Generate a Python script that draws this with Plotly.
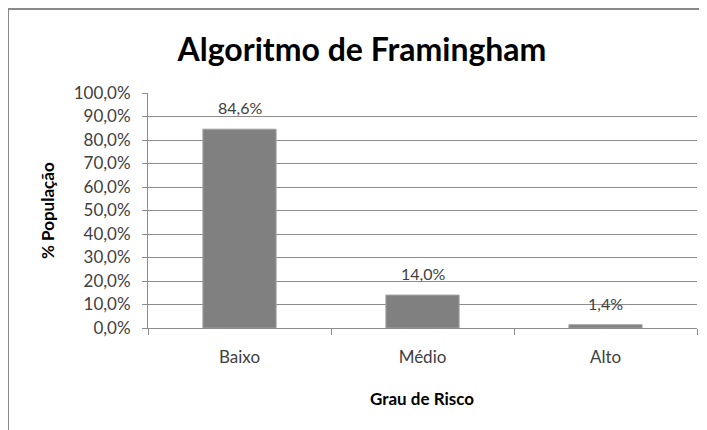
import plotly.graph_objects as go

categorias = ["Baixo", "Médio", "Alto"]
percentagens = [84.6, 14.0, 1.4]
y_ticks = [0, 10, 20, 30, 40, 50, 60, 70, 80, 90, 100]
y_ticktext = [f"{v:.1f}".replace(".", ",") + "%" for v in y_ticks]
rotulos = [f"{v:.1f}".replace(".", ",") + "%" for v in percentagens]

FONT = "Lato, 'Open Sans', sans-serif"
GRID = "#8c8c8c"
TXT = "#404040"

# page body adds ~8px, so positions below are reference px minus OFF
OFF = 8
W, H = 707, 430
L, T = 148 - OFF, 93 - OFF
R, B = W - (697 - OFF), H - (328 - OFF)
pw, ph = W - L - R, H - T - B


def px_x(x):
    return (x - OFF - L) / pw


def px_y(y):
    return (H - B - (y - OFF)) / ph


fig = go.Figure(go.Bar(
    x=categorias,
    y=percentagens,
    marker=dict(color="#808080", line=dict(color="#a0a0a0", width=1)),
))

fig.update_layout(
    width=W, height=H,
    margin=dict(l=L, r=R, t=T, b=B),
    paper_bgcolor="white",
    plot_bgcolor="white",
    showlegend=False,
    bargap=0.6,
    font=dict(family=FONT, color=TXT),
    title=dict(
        text="<b>Algoritmo de Framingham</b>",
        font=dict(family=FONT, size=32, color="black"),
        x=px_x(362), xanchor="center", xref="paper",
        y=1 - (50 - OFF) / H, yanchor="middle",
    ),
    xaxis=dict(
        showline=True, linecolor=GRID, linewidth=1,
        ticks="outside", tickson="boundaries", ticklen=6, tickcolor=GRID,
        ticklabelstandoff=14,
        tickfont=dict(family=FONT, size=17, color=TXT),
        showgrid=False,
    ),
    yaxis=dict(
        range=[0, 100],
        tickvals=y_ticks, ticktext=y_ticktext,
        showline=True, linecolor=GRID, linewidth=1,
        ticks="outside", ticklen=5, tickcolor=GRID,
        ticklabelstandoff=8,
        showgrid=True, gridcolor=GRID, gridwidth=1,
        tickfont=dict(family=FONT, size=17, color=TXT),
        zeroline=False,
    ),
    shapes=[
        dict(type="line", xref="paper", yref="paper",
             x0=px_x(8), x1=px_x(730), y0=px_y(9), y1=px_y(9),
             line=dict(color="#8a8a8a", width=2)),
        dict(type="line", xref="paper", yref="paper",
             x0=px_x(8), x1=px_x(8), y0=px_y(9), y1=px_y(450),
             line=dict(color="#8a8a8a", width=2)),
    ],
)

# data labels above the bars
for c, v, t in zip(categorias, percentagens, rotulos):
    fig.add_annotation(x=c, y=v, text=t, showarrow=False,
                       yanchor="bottom", yshift=10,
                       font=dict(family=FONT, size=16, color=TXT))

fig.add_annotation(text="<b>% População</b>", textangle=-90,
                   x=px_x(47), y=px_y(211), xref="paper", yref="paper",
                   xanchor="center", yanchor="middle",
                   showarrow=False, font=dict(family=FONT, size=17, color="black"))
fig.add_annotation(text="<b>Grau de Risco</b>",
                   x=px_x(422), y=px_y(398), xref="paper", yref="paper",
                   xanchor="center", yanchor="middle",
                   showarrow=False, font=dict(family=FONT, size=17, color="black"))

fig.write_html("out.html")
